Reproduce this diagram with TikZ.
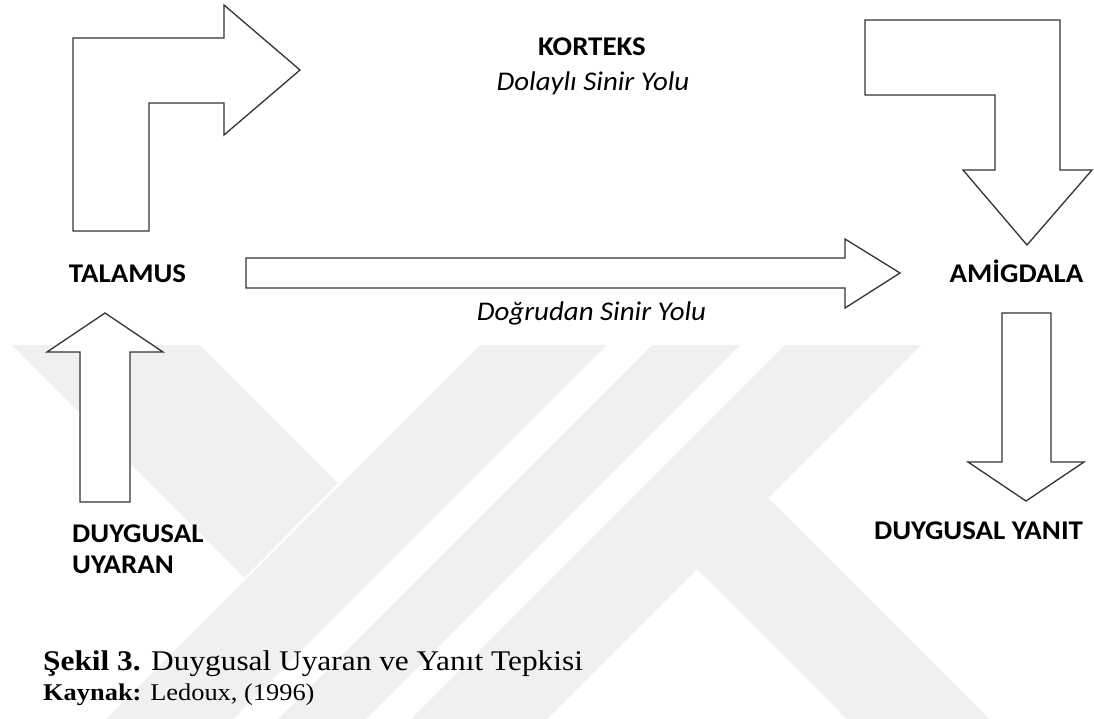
\documentclass[tikz,border=0pt]{standalone}
\usepackage{fontspec}
\newfontfamily\lblfont[FakeStretch=1.07]{Carlito}
\newfontfamily\capfont[FakeStretch=1.1]{Liberation Serif}
\definecolor{markgray}{gray}{0.94}

\tikzset{
  blockarrow/.style={draw=black!80, line width=1.3pt, fill=white, line join=miter},
  markband/.style={fill=markgray, draw=none},
  lbl/.style={font=\lblfont\fontsize{27}{30}\selectfont\bfseries, inner sep=0pt, anchor=base},
  pathlbl/.style={font=\lblfont\fontsize{27}{30}\selectfont\itshape, inner sep=0pt, anchor=base},
  captext/.style={inner sep=0pt, anchor=base west},
}

\begin{document}
\begin{tikzpicture}[x=1pt, y=-1pt]
  \useasboundingbox (0,0) rectangle (1094,718);

  % watermark in the back
  \begin{scope}
    \clip (0,0) rectangle (1094,718);
    \fill[markband] (12,345) -- (200,345) -- (338,483) -- (244.5,577.5) -- cycle;
    \fill[markband] (480,345) -- (607,345) -- (192,760) -- (65,760) -- cycle;
    \fill[markband] (652,345) -- (740,345) -- (325,760) -- (237,760) -- cycle;
    \fill[markband] (785,345) -- (921,345) -- (506,760) -- (370,760) -- cycle;
    \fill[markband] (768,498) -- (1030,760) -- (888,760) -- (697,569) -- cycle;
  \end{scope}

  % block arrows
  \draw[blockarrow] (73,231) -- (73,38) -- (224,38) -- (224,5) -- (300,70)
    -- (224,135) -- (224,103) -- (149,103) -- (149,231) -- cycle;
  \draw[blockarrow] (865,20) -- (1060,20) -- (1060,170) -- (1092,170) -- (1027,245)
    -- (963,170) -- (995,170) -- (995,95) -- (865,95) -- cycle;
  \draw[blockarrow] (246,258) -- (845,258) -- (845,239) -- (900,273)
    -- (845,308) -- (845,288) -- (246,288) -- cycle;
  \draw[blockarrow] (80,502) -- (80,352) -- (47,352) -- (105,313)
    -- (163,352) -- (130,352) -- (130,502) -- cycle;
  \draw[blockarrow] (1002,313) -- (1051,313) -- (1051,462) -- (1084,462)
    -- (1026,501) -- (968,462) -- (1002,462) -- cycle;

  % labels
  \node[lbl] (talamus) at (127.5,282) {TALAMUS};
  \node[lbl] (korteks) at (592,55) {KORTEKS};
  \node[pathlbl] (dolayli) at (593,90) {Dolaylı Sinir Yolu};
  \node[lbl] (amigdala) at (1016.5,282) {AMİGDALA};
  \node[pathlbl] (dogrudan) at (591.5,320) {Doğrudan Sinir Yolu};
  \node[lbl, anchor=base west] (uyaran1) at (72,542) {DUYGUSAL};
  \node[lbl, anchor=base west] (uyaran2) at (72,573) {UYARAN};
  \node[lbl] (yanit) at (978.5,539) {DUYGUSAL YANIT};

  % caption
  \node[captext, font=\capfont\fontsize{28.5}{32}\selectfont] (caption) at (43,670)
    {\textbf{Şekil 3.} Duygusal Uyaran ve Yanıt Tepkisi};
  \node[captext, font=\capfont\fontsize{24}{28}\selectfont] (source) at (43,700)
    {\textbf{Kaynak:} Ledoux, (1996)};
\end{tikzpicture}
\end{document}
